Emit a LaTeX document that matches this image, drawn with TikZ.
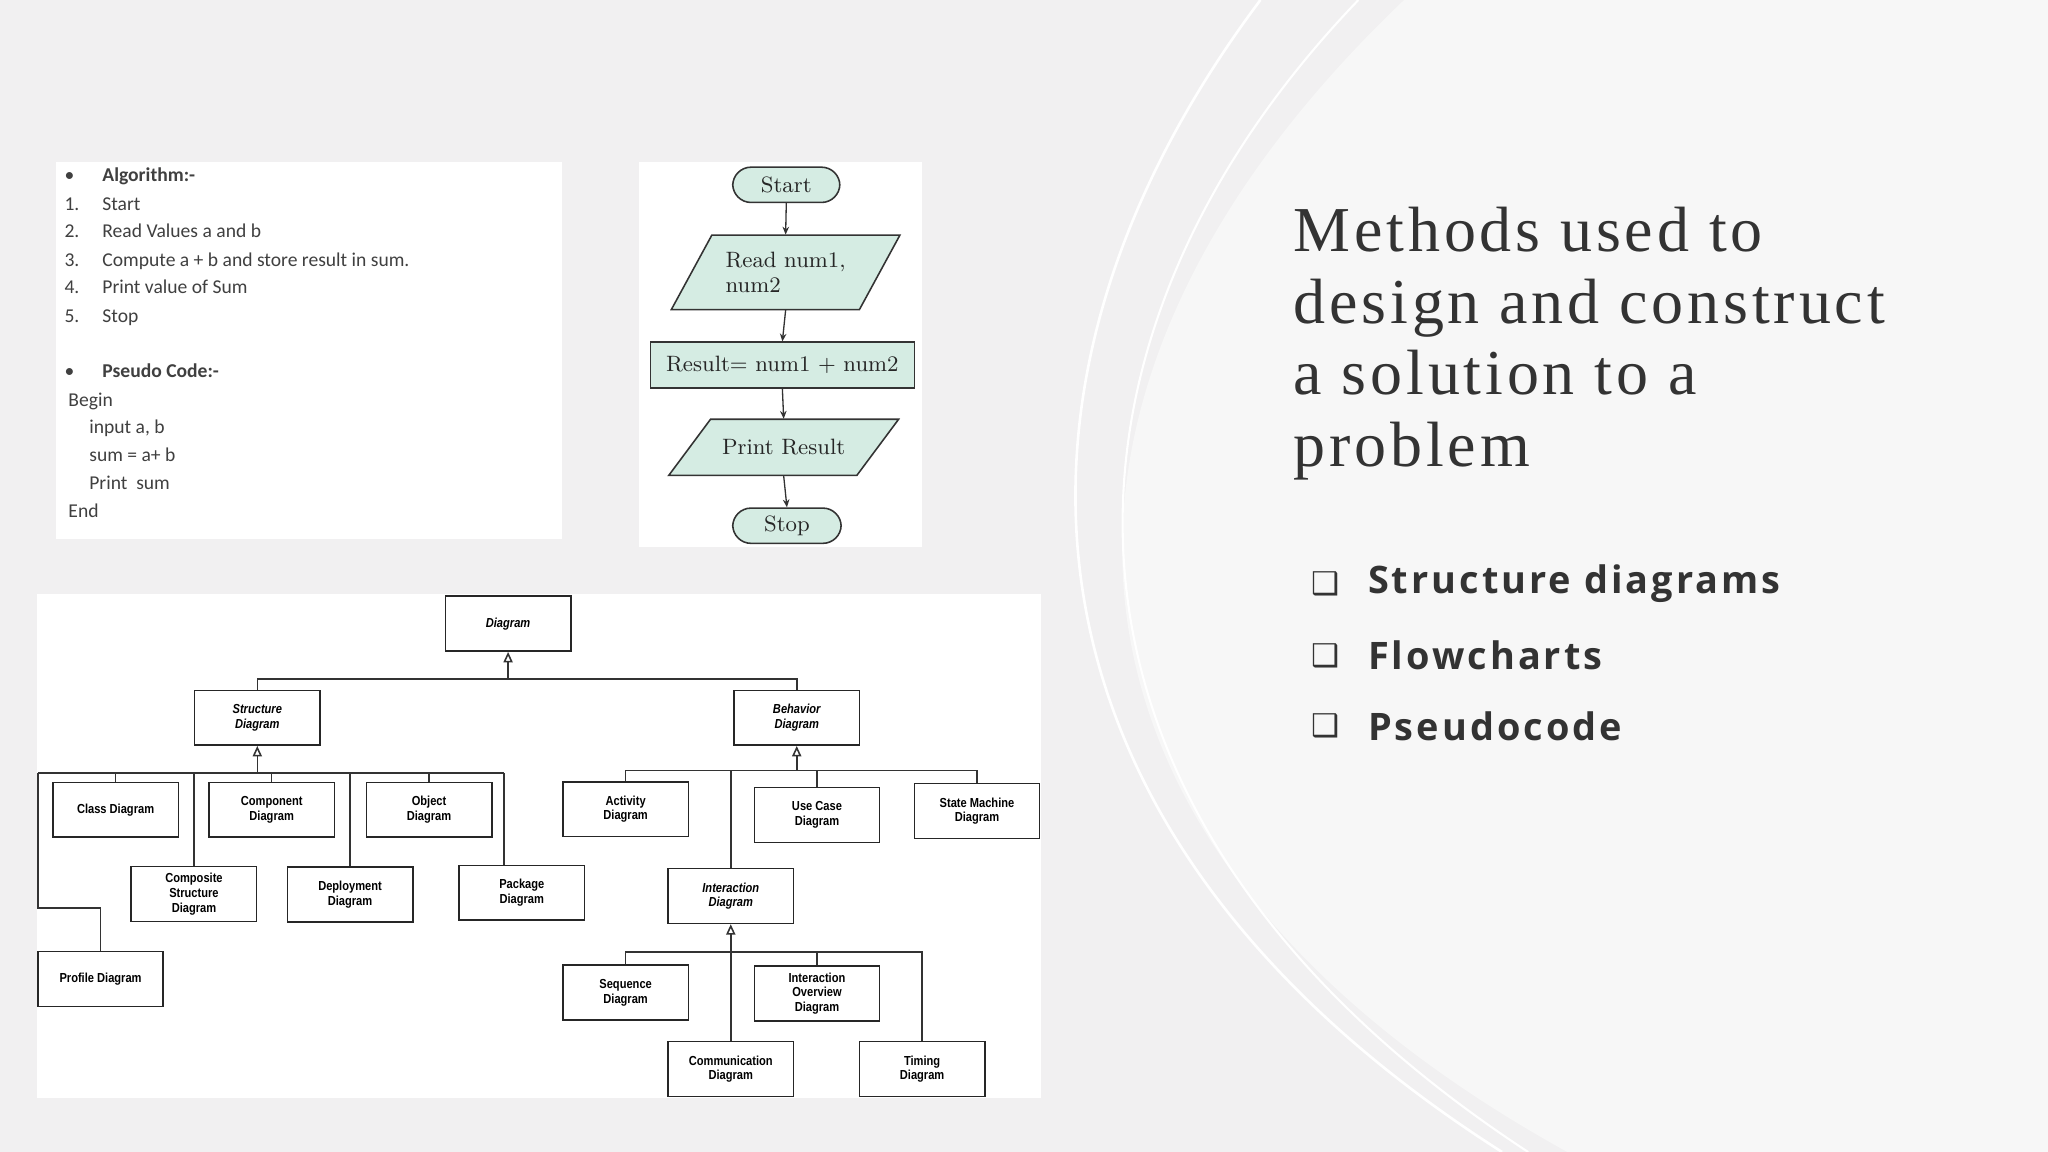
\documentclass[tikz,border=0pt]{standalone}
\usepackage{fontspec}
\newfontfamily\titlef{Liberation Serif}[LetterSpace=6]
\newfontfamily\bulf{Open Sans}[LetterSpace=8]
\newfontfamily\calf{Carlito}
\newfontfamily\umlf{Liberation Sans}[FakeStretch=0.85]
\newcommand\lmf{\rmfamily}
\newfontfamily\djv{DejaVu Sans}
\usetikzlibrary{arrows.meta}
\definecolor{bg}{HTML}{F1F0F1}
\definecolor{bgr}{HTML}{F7F7F7}
\definecolor{flow}{HTML}{D5ECE3}
\definecolor{ink}{HTML}{333333}
\begin{document}
\begin{tikzpicture}[x=0.5pt,y=-0.5pt,
  uml/.style={draw=black!85,line width=0.6pt,fill=white,minimum width=48pt,minimum height=21pt,inner sep=0pt,align=center,font=\umlf\bfseries\fontsize{5}{5.6}\selectfont},
  umli/.style={uml,font=\umlf\bfseries\itshape\fontsize{5}{5.6}\selectfont},
  ln/.style={draw=black!80,line width=0.6pt},
  gen/.style={ln,-{Triangle[open,length=4pt,width=3.5pt]}},
  fl/.style={draw=black!80,line width=0.6pt,fill=flow},
  fa/.style={draw=black!80,line width=0.5pt,-{Stealth[length=3pt,width=2.5pt]}},
  ft/.style={font=\lmf\fontsize{8.5}{9.5}\selectfont,text=black!85},
  al/.style={anchor=base west,font=\calf\fontsize{7.5}{8}\selectfont,text=black!75,inner sep=0pt},
  alb/.style={al,font=\calf\bfseries\fontsize{7.5}{8}\selectfont}]
\useasboundingbox (0,0) rectangle (1568,882);
\fill[bg] (0,0) rectangle (1568,882);
\fill[bgr] (1075,0) .. controls (760,300) and (780,650) .. (1200,882) -- (1568,882) -- (1568,0) -- cycle;
\draw[white,line width=1pt] (965,0) .. controls (740,300) and (770,640) .. (1150,882);
\draw[white,line width=0.8pt] (1040,0) .. controls (790,260) and (770,620) .. (1170,882);

% panels
\fill[white] (43,124) rectangle (430,413);
\fill[white] (489,124) rectangle (706,419);
\fill[white] (28,455) rectangle (797,841);

% algorithm text
\node[alb] (a0) at (78,139) {Algorithm:-};
\node[al] (b0) at (49,139) {•};
\node[al] (n1) at (49,161) {1.}; \node[al] (a1) at (78,161) {Start};
\node[al] (n2) at (49,182) {2.}; \node[al] (a2) at (78,182) {Read Values a and b};
\node[al] (n3) at (49,204) {3.}; \node[al] (a3) at (78,204) {Compute a + b and store result in sum.};
\node[al] (n4) at (49,225) {4.}; \node[al] (a4) at (78,225) {Print value of Sum};
\node[al] (n5) at (49,247) {5.}; \node[al] (a5) at (78,247) {Stop};
\node[al] (b1) at (49,289) {•}; \node[alb] (p0) at (78,289) {Pseudo Code:-};
\node[al] (p1) at (52,311) {Begin};
\node[al] (p2) at (68,332) {input a, b};
\node[al] (p3) at (68,353) {sum = a+ b};
\node[al] (p4) at (68,375) {Print\ \ sum};
\node[al] (p5) at (52,396) {End};

% flowchart
\node[fl,rounded corners=7pt,minimum width=41pt,minimum height=13.5pt,inner sep=0pt,ft] (start) at (602,141.5) {Start};
\filldraw[fl] (545,180) -- (689,180) -- (658,237) -- (514,237) -- cycle;
\node[ft,align=left,minimum width=72pt,minimum height=28.5pt,inner sep=0pt] (read) at (601.5,208.5) {Read num1,\\num2};
\node[fl,minimum width=101pt,minimum height=17.5pt,inner sep=0pt,ft] (res) at (599,279.5) {Result= num1 + num2};
\filldraw[fl] (544,321) -- (688,321) -- (656,364) -- (512,364) -- cycle;
\node[ft,minimum width=72pt,minimum height=21.5pt,inner sep=0pt] (prn) at (600,342.5) {Print Result};
\node[fl,rounded corners=7pt,minimum width=41.5pt,minimum height=13.5pt,inner sep=0pt,ft] (stop) at (602.5,402.5) {Stop};
\draw[fa] (start.south) -- (read.north);
\draw[fa] (read.south) -- (res.north);
\draw[fa] (res.south) -- (prn.north);
\draw[fa] (prn.south) -- (stop.north);

% UML tree
\node[umli] (dg) at (389,477.5) {Diagram};
\node[umli] (sd) at (197,549.5) {Structure\\Diagram};
\node[umli] (bd) at (610,549.5) {Behavior\\Diagram};
\node[uml] (cl) at (88.5,620) {Class Diagram};
\node[uml] (co) at (208,620) {Component\\Diagram};
\node[uml] (ob) at (328.5,620) {Object\\Diagram};
\node[uml] (cs) at (148.5,684.5) {Composite\\Structure\\Diagram};
\node[uml] (de) at (268,685) {Deployment\\Diagram};
\node[uml] (pk) at (399.5,683.5) {Package\\Diagram};
\node[uml] (pr) at (77,749.5) {Profile Diagram};
\node[uml] (ac) at (479,619.5) {Activity\\Diagram};
\node[uml] (uc) at (625.5,624) {Use Case\\Diagram};
\node[uml] (sm) at (748,621) {State Machine\\Diagram};
\node[umli] (id) at (559.5,686) {Interaction\\Diagram};
\node[uml] (sq) at (479,760) {Sequence\\Diagram};
\node[uml] (io) at (625.5,760.5) {Interaction\\Overview\\Diagram};
\node[uml] (cm) at (559.5,818.5) {Communication\\Diagram};
\node[uml] (tm) at (706,818.5) {Timing\\Diagram};

\draw[gen] (389,520) -- (dg.south);
\draw[ln] (sd.north) |- (389,520) -| (bd.north);
% structure children
\draw[gen] (197,592) -- (sd.south);
\draw[ln] (29,592) -- (386,592);
\draw[ln] (cl.north) -- (88.5,592);
\draw[ln] (co.north) -- (208,592);
\draw[ln] (ob.north) -- (328.5,592);
\draw[ln] (cs.north) -- (148.5,592);
\draw[ln] (de.north) -- (268,592);
\draw[ln] (386,592) -- (386,662);
\draw[ln] (pr.north) |- (29,695) -- (29,592);
% behavior children
\draw[gen] (610,590) -- (bd.south);
\draw[ln] (ac.north) |- (610,590) -| (sm.north);
\draw[ln] (uc.north) -- (625.5,590);
\draw[ln] (id.north) -- (559.5,590);
% interaction children
\draw[gen] (559.5,729) -- (id.south);
\draw[ln] (sq.north) |- (559.5,729) -| (tm.north);
\draw[ln] (io.north) -- (625.5,729);
\draw[ln] (cm.north) -- (559.5,729);

% title
\node[anchor=north west,inner sep=0pt,align=left,text=ink,font=\titlef\fontsize{24.5}{27.5}\selectfont] (title) at (990,158) {Methods used to\\design and construct\\a solution to a\\problem};

% bullets
\foreach \y/\t [count=\i] in {447/Structure diagrams,502/Flowcharts,556/Pseudocode}{
  \node[anchor=west,inner sep=0pt,text=ink,font=\djv\bfseries\fontsize{12}{12}\selectfont] (q\i) at (1004,\y) {❑};
  \node[anchor=west,inner sep=0pt,text=ink,font=\bulf\bfseries\fontsize{14.5}{14.5}\selectfont] (t\i) at (1047,\y) {\t};
}
\end{tikzpicture}
\end{document}
